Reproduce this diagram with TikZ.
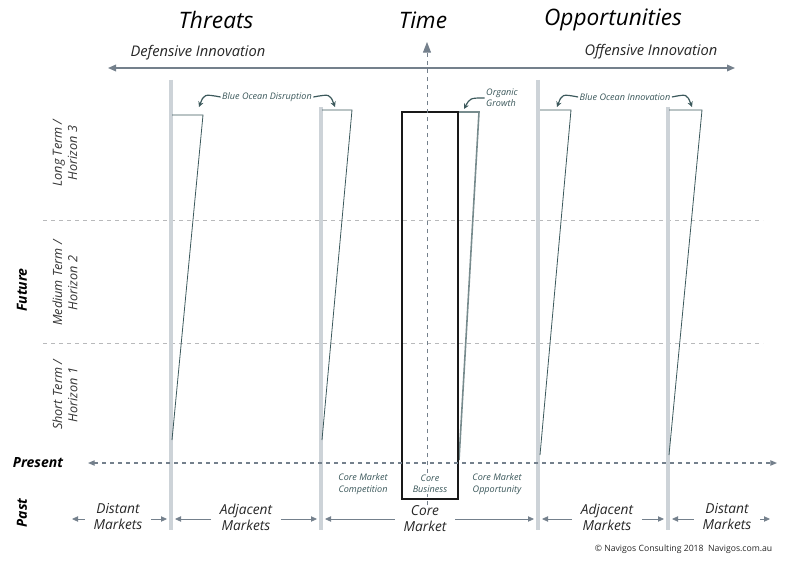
\documentclass[tikz,border=0pt]{standalone}
\usepackage{fontspec}
\setmainfont{Open Sans}
\usepackage[svgnames]{xcolor}
\usetikzlibrary{arrows.meta, positioning, calc}
\colorlet{PillarLine}{Gainsboro!90!SteelBlue}
\colorlet{WedgeLine}{DarkSlateGray!80!SlateGray}
\colorlet{AxisLine}{SlateGray!75!Gray}
\colorlet{GridLine}{Silver!90!SlateGray}
\colorlet{TagText}{DarkSlateGray!85!SlateGray}

\begin{document}
\begin{tikzpicture}[
    x=0.75pt, y=-0.75pt,
    heading/.style={font=\fontsize{17}{20}\selectfont\itshape, text=black},
    innov/.style={font=\fontsize{11}{13}\selectfont\itshape, text=black!85},
    horizon/.style={font=\fontsize{9.5}{11.5}\selectfont\itshape, text=black!80,
                    align=center, rotate=90},
    era/.style={font=\fontsize{10.5}{12}\selectfont\bfseries\itshape, text=black},
    market/.style={font=\fontsize{10.3}{12}\selectfont\itshape, text=black!85,
                   align=center},
    tag/.style={font=\fontsize{6.8}{8.5}\selectfont\itshape, text=TagText,
                align=center, inner sep=1pt},
    pillar/.style={draw=PillarLine, line width=2.4pt},
    wedge/.style={draw=WedgeLine, line width=0.6pt, line join=miter},
    core/.style={draw=black!90, line width=1.5pt},
    grid/.style={draw=GridLine, dashed, line width=0.5pt},
    axis/.style={AxisLine, line width=0.9pt,
                 {Triangle[length=6pt, width=5pt]}-{Triangle[length=6pt, width=5pt]}},
    timearr/.style={AxisLine, dashed, line width=0.7pt,
                    -{Triangle[length=8pt, width=6pt]}},
    nowarr/.style={AxisLine, dashed, line width=0.8pt,
                   {Triangle[length=5pt, width=4pt]}-{Triangle[length=5pt, width=4pt]}},
    mktarr/.style={-{Triangle[length=4.5pt, width=4pt]}, AxisLine, line width=0.6pt,
                   shorten <=3pt, shorten >=3pt},
    curl/.style={-{Stealth[length=4pt, width=4pt]}, WedgeLine, line width=0.9pt}
]
\useasboundingbox (0,0) rectangle (788,560);

% ===================================================================
% HORIZON GRID
% ===================================================================
\draw[grid] (43,220) -- (763,220);
\draw[grid] (43,343) -- (763,343);

% ===================================================================
% PILLARS AND WEDGES
% ===================================================================
\draw[pillar] (171,80) -- (171,530);
\draw[pillar] (321,107) -- (321,530);
\draw[pillar] (538,80) -- (538,530);
\draw[pillar] (668,107) -- (668,530);

\draw[wedge] (172,115) -- (203,115) -- (172,440);
\draw[wedge] (322,110) -- (352,110) -- (322,440);
\draw[wedge] (540,110) -- (571,110) -- (540,455);
\draw[wedge] (669,110) -- (702,110) -- (669,455);
\draw[wedge, line width=1.2pt, draw=WedgeLine!70] (458,112) -- (479,112) -- (459,460);

% Core business block
\draw[core] (402,112) rectangle (458,499);

% ===================================================================
% AXES
% ===================================================================
\coordinate (timebase) at (427,505);
\coordinate (timetip) at (427,42);
\draw[timearr] (timebase) -- (timetip);

\coordinate (defend) at (108,68);
\coordinate (offend) at (735,68);
\draw[axis] (defend) -- (offend);

\coordinate (pastend) at (88,463);
\coordinate (futend) at (777,463);
\draw[nowarr] (pastend) -- (futend);

% ===================================================================
% HEADINGS
% ===================================================================
\node[heading] (threats) at (216,20) {Threats};
\node[heading] (time) at (423,20) {Time};
\node[heading] (opps) at (613,20) {Opportunities};
\node[innov] (defensive) at (198,53) {Defensive Innovation};
\node[innov] (offensive) at (651,52) {Offensive Innovation};

% ===================================================================
% TIME HORIZONS
% ===================================================================
\node[horizon] (long) at (65,153) {Long Term /\\Horizon 3};
\node[horizon] (medium) at (65,283) {Medium Term /\\Horizon 2};
\node[horizon] (short) at (65,395) {Short Term /\\Horizon 1};
\node[era, rotate=90] (future) at (22,290) {Future};
\node[era] (present) at (38,463) {Present};
\node[era, rotate=90] (past) at (22,513) {Past};

% ===================================================================
% WEDGE TAGS
% ===================================================================
\node[tag] (bod) at (267,97) {Blue Ocean Disruption};
\node[tag, align=left] (organic) at (502,98) {Organic\\Growth};
\node[tag] (boi) at (625,97) {Blue Ocean Innovation};

\coordinate (bodl) at (199,107);
\coordinate (bodr) at (335,107);
\coordinate (orgl) at (464,109);
\coordinate (boil) at (557,107);
\coordinate (boir) at (692,107);
\draw[curl] (bod.west) .. controls (204,94) .. (bodl);
\draw[curl] (bod.east) .. controls (330,94) .. (bodr);
\draw[curl] (organic.west) .. controls (470,98) .. (orgl);
\draw[curl] (boi.west) .. controls (562,94) .. (boil);
\draw[curl] (boi.east) .. controls (687,94) .. (boir);

\node[tag] (compete) at (363,484) {Core Market\\Competition};
\node[tag, fill=white] (business) at (430,484) {Core\\Business};
\node[tag] (oppty) at (497,484) {Core Market\\Opportunity};

% ===================================================================
% MARKETS
% ===================================================================
\coordinate (edgel) at (68,519);
\coordinate (p1) at (171,519);
\coordinate (p2) at (321,519);
\coordinate (p3) at (538,519);
\coordinate (p4) at (668,519);
\coordinate (edger) at (774,519);

\node[market] (distl) at (118,517) {Distant\\Markets};
\node[market] (adjl) at (246,517) {Adjacent\\Markets};
\node[market] (coremkt) at (425,519) {Core\\Market};
\node[market] (adjr) at (607,517) {Adjacent\\Markets};
\node[market] (distr) at (727,517) {Distant\\Markets};

\draw[mktarr] (distl.west |- edgel) -- (edgel);
\draw[mktarr] (distl.east |- p1) -- (p1);
\draw[mktarr] (adjl.west |- p1) -- (p1);
\draw[mktarr] (adjl.east |- p2) -- (p2);
\draw[mktarr] (coremkt.west |- p2) -- (p2);
\draw[mktarr] (coremkt.east |- p3) -- (p3);
\draw[mktarr] (adjr.west |- p3) -- (p3);
\draw[mktarr] (adjr.east |- p4) -- (p4);
\draw[mktarr] (distr.west |- p4) -- (p4);
\draw[mktarr] (distr.east |- edger) -- (edger);

\node[font=\fontsize{6.5}{8}\selectfont, text=black!85, anchor=east] (credit)
    at (777,549) {\textcopyright{} Navigos Consulting 2018\ \ Navigos.com.au};

\end{tikzpicture}
\end{document}
